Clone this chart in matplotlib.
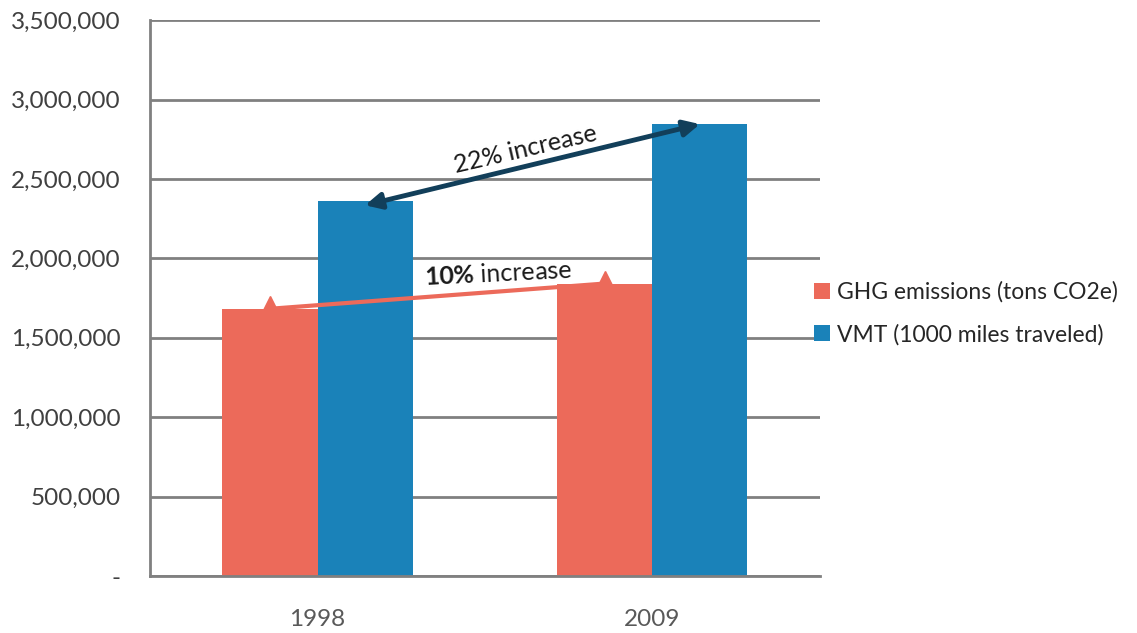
import numpy as np
import matplotlib.pyplot as plt
from matplotlib.ticker import FuncFormatter

plt.rcParams['font.family'] = ['Lato', 'DejaVu Sans']
plt.rcParams['mathtext.fontset'] = 'custom'
plt.rcParams['mathtext.rm'] = 'Lato'
plt.rcParams['mathtext.bf'] = 'Lato:bold'

years = ['1998', '2009']
ghg = [1683000, 1842000]
vmt = [2360000, 2846000]
labels = ['GHG emissions (tons CO2e)', 'VMT (1000 miles traveled)']
red = '#EC6A5A'
blue = '#1A82B9'
navy = '#123F5A'

fig = plt.figure(figsize=(11.37, 6.33), dpi=100)
ax = fig.add_axes([0.132, 0.090, 0.589, 0.878])

x = np.arange(len(years))
w = 0.284
ax.bar(x - w / 2, ghg, w, color=red, label=labels[0], zorder=2)
ax.bar(x + w / 2, vmt, w, color=blue, label=labels[1], zorder=2)

ax.set_xlim(-0.5, 1.5)
ax.set_ylim(0, 3500000)
ax.set_yticks(np.arange(0, 3500001, 500000))
ax.yaxis.set_major_formatter(FuncFormatter(lambda v, p: '-' if v == 0 else f'{int(v):,}'))
ax.set_xticks(x)
ax.set_xticklabels(years)
ax.grid(axis='y', color='#808080', linewidth=2, zorder=0)
for s in ['top', 'right']:
    ax.spines[s].set_visible(False)
for s in ['left', 'bottom']:
    ax.spines[s].set_color('#808080')
    ax.spines[s].set_linewidth(2)
ax.tick_params(axis='y', length=0, pad=21, labelsize=17.5, labelcolor='#404040')
ax.tick_params(axis='x', length=0, pad=24, labelsize=17.5, labelcolor='#595959')

# 22% arrow between VMT bars
ax.annotate('', xy=(1 + w / 2, vmt[1]), xytext=(0 + w / 2, vmt[0] - 25000),
            arrowprops=dict(arrowstyle='<|-|>', color=navy, lw=3.5,
                            mutation_scale=24, shrinkA=0, shrinkB=0), zorder=4)
# 10% line between GHG bars
ax.plot([0 - w / 2, 1 - w / 2], [ghg[0], ghg[1]], color=red, lw=3, zorder=4)
ax.plot([0 - w / 2, 1 - w / 2], [ghg[0] + 30000, ghg[1] + 30000], '^',
        color=red, ms=11, zorder=4)

def angle(x0, y0, x1, y1):
    p0 = ax.transData.transform((x0, y0))
    p1 = ax.transData.transform((x1, y1))
    return np.degrees(np.arctan2(p1[1] - p0[1], p1[0] - p0[0]))

fig.canvas.draw()
a1 = angle(0 + w / 2, vmt[0], 1 + w / 2, vmt[1])
ax.text(0.62, 2690000, '22% increase', rotation=a1, rotation_mode='anchor',
        ha='center', va='center', fontsize=18, color='#1a1a1a', zorder=5)
a2 = angle(0 - w / 2, ghg[0], 1 - w / 2, ghg[1]) - 1.5
ax.text(0.54, 1900000, r'$\mathbf{10\%}$ increase', rotation=a2, rotation_mode='anchor',
        ha='center', va='center', fontsize=18, color='#1a1a1a', zorder=5)

fig.legend(loc='center left', bbox_to_anchor=(0.698, 0.505), frameon=False,
           fontsize=16.5, handlelength=0.7, handleheight=0.7, handletextpad=0.3,
           labelspacing=0.9, labelcolor='#262626')

fig.savefig('out.png', dpi=100)
